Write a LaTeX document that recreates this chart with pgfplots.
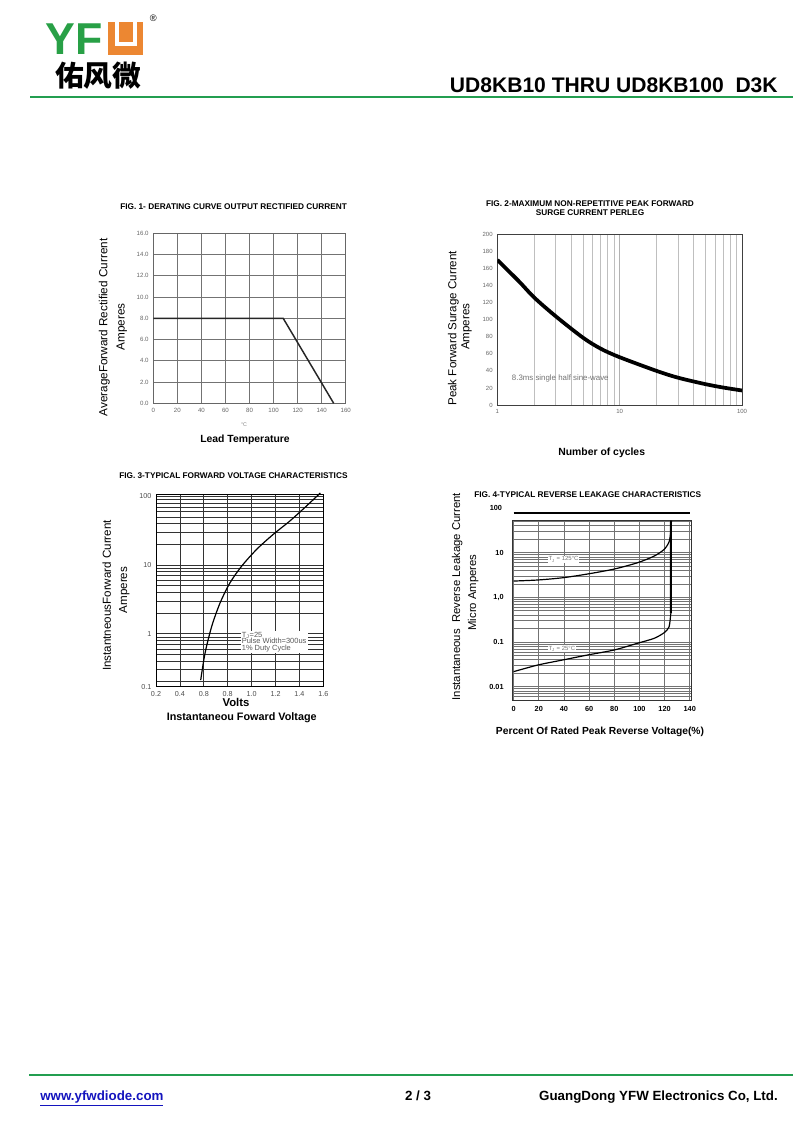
\documentclass[border=0pt]{standalone}
\usepackage{pgfplots}
\pgfplotsset{compat=1.18}
\usepackage{fontspec}
\setmainfont{Liberation Sans}
\newfontfamily\cjk{Noto Sans CJK SC}
\definecolor{ygreen}{RGB}{35,158,80}
\definecolor{lgreen}{RGB}{40,160,70}
\definecolor{yorange}{RGB}{236,135,50}
\definecolor{lnkblue}{RGB}{20,20,190}
\newcommand{\fs}[1]{\fontsize{#1}{#1}\selectfont}
\pgfplotsset{
  every axis/.append style={scale only axis, anchor=south west,
    /pgf/number format/assume math mode=true, major tick length=0pt, minor tick length=0pt},
}
\begin{document}
\begin{tikzpicture}
\begin{scope}[x=0.75pt,y=-0.75pt]
\path[use as bounding box] (0,0) rectangle (800,1138);
% header
\node[anchor=base west, inner sep=0, text=lgreen, font=\bfseries\fs{33.5pt}] at (45,55) {YF};
\fill[yorange] (108.3,22.5) rectangle (143.3,55.3);
\draw[white, line width=3pt, miter limit=10] (117.3,22.5) -- (117.3,43.7) -- (135.3,43.7) -- (135.3,22.5);
\node[anchor=center, inner sep=0, font=\fs{7pt}] at (153.3,18.7) {®};
\node[anchor=base west, inner sep=0, font=\cjk\bfseries\fs{21.5pt}] at (55,86.5) {佑风微};
\node[anchor=base east, inner sep=0, font=\bfseries\fs{15.8pt}] at (778,93) {UD8KB10 THRU UD8KB100\ \ D3K};
\draw[ygreen, line width=1.6pt] (30,97.3) -- (793,97.3);
% footer
\draw[ygreen, line width=1.6pt] (29,1075) -- (793,1075);
\node[anchor=base west, inner sep=0, text=lnkblue, font=\bfseries\fs{10pt}] at (40,1100.7) {\underline{www.yfwdiode.com}};
\node[anchor=base, inner sep=0, font=\bfseries\fs{10pt}] at (418,1100.7) {2 / 3};
\node[anchor=base east, inner sep=0, font=\bfseries\fs{10pt}] at (778,1100.7) {GuangDong YFW Electronics Co, Ltd.};
% fig titles
\node[anchor=west, inner sep=0, font=\bfseries\fs{6.2pt}] at (120,207) {FIG. 1- DERATING CURVE OUTPUT RECTIFIED CURRENT};
\node[anchor=center, inner sep=0, font=\bfseries\fs{6.2pt}] at (590,203.3) {FIG. 2-MAXIMUM NON-REPETITIVE PEAK FORWARD};
\node[anchor=center, inner sep=0, font=\bfseries\fs{6.2pt}] at (590,212.3) {SURGE CURRENT PERLEG};
\node[anchor=west, inner sep=0, font=\bfseries\fs{6.2pt}] at (119,476) {FIG. 3-TYPICAL FORWARD VOLTAGE CHARACTERISTICS};
\node[anchor=west, inner sep=0, font=\bfseries\fs{6.2pt}] at (474,495) {FIG. 4-TYPICAL REVERSE LEAKAGE CHARACTERISTICS};
% axis labels fig1
\node[rotate=90, inner sep=0, font=\fs{8.8pt}] at (104.3,327.5) {AverageForward Rectified Current};
\node[rotate=90, inner sep=0, font=\fs{8.8pt}] at (121.7,327) {Amperes};
\node[inner sep=0, text=gray, font=\fs{4pt}] at (244,425) {°C};
\node[inner sep=0, font=\bfseries\fs{7.8pt}] at (245,440) {Lead Temperature};
% fig2
\node[rotate=90, inner sep=0, font=\fs{8.7pt}] at (453.3,328.3) {Peak Forward Surage Current};
\node[rotate=90, inner sep=0, font=\fs{8.7pt}] at (466.7,326.7) {Amperes};
\node[inner sep=0, font=\bfseries\fs{7.8pt}] at (601.7,453.3) {Number of cycles};
% fig3
\node[rotate=90, inner sep=0, font=\fs{8.7pt}] at (106.7,595.5) {InstantneousForward Current};
\node[rotate=90, inner sep=0, font=\fs{8.7pt}] at (124.3,590) {Amperes};
\node[inner sep=0, font=\bfseries\fs{8.5pt}] at (236,702.3) {Volts};
\node[inner sep=0, font=\bfseries\fs{8.1pt}] at (241.7,717.3) {Instantaneou Foward Voltage};
% fig4
\node[rotate=90, inner sep=0, font=\fs{8.5pt}] at (457.3,596.7) {Instantaneous\ \ Reverse Leakage Current};
\node[rotate=90, inner sep=0, font=\fs{8.5pt}] at (473.3,592.5) {Micro Amperes};
\node[inner sep=0, font=\bfseries\fs{7.7pt}] at (600,731.7) {Percent\ Of Rated Peak Reverse Voltage(\%)};
\end{scope}

% ---------------- FIG 1
\begin{axis}[at={(115pt,-302.5pt)}, width=144.3pt, height=127.5pt,
  xmin=0, xmax=160, ymin=0, ymax=16,
  xtick={0,20,40,60,80,100,120,140,160},
  ytick={0,2,4,6,8,10,12,14,16},
  yticklabels={0.0,2.0,4.0,6.0,8.0,10.0,12.0,14.0,16.0},
  grid=major, major grid style={draw=black!55, line width=0.6pt},
  axis line style={draw=black!60, line width=0.6pt},
  tick label style={font=\fs{4.6pt}, text=black!60}]
\addplot[black!85, line width=1.1pt] coordinates {(0,8) (108,8) (150,0)};
\end{axis}

% ---------------- FIG 2
\begin{axis}[at={(373pt,-303.75pt)}, width=183.5pt, height=128pt,
  xmode=log, xmin=1, xmax=100, ymin=0, ymax=200,
  xtick={1,10,100}, xticklabels={1,10,100},
  ytick={0,20,40,60,80,100,120,140,160,180,200},
  xmajorgrids, xminorgrids,
  major grid style={draw=black!30, line width=0.5pt},
  minor grid style={draw=black!25, line width=0.5pt},
  axis line style={draw=black!75, line width=0.7pt},
  tick label style={font=\fs{4.5pt}, text=black!60}]
\addplot[black, line width=2.8pt, smooth] coordinates {(1,170) (1.5,145) (2,126) (3,104) (5,79) (7,66) (10,56) (20,40) (30,32) (50,24.5) (70,20.5) (100,17)};
\node[anchor=west, inner sep=0, text=black!55, font=\fs{5.9pt}] at (axis cs:1.31,31) {8.3ms single half sine-wave};
\end{axis}

% ---------------- FIG 3
\begin{axis}[at={(117pt,-515pt)}, width=125.5pt, height=143.8pt,
  ymode=log, xmin=0.2, xmax=1.6, ymin=0.17, ymax=105, clip=false,
  xtick={0.2,0.4,0.6,0.8,1.0,1.2,1.4,1.6},
  xticklabels={0.2,0.4,0.8,0.8,1.0,1.2,1.4,1.6},
  ytick={1,10,100}, yticklabels={1,10,100},
  extra y ticks={0.17}, extra y tick labels={0.1},
  extra y tick style={grid=none},
  minor ytick={0.2,0.3,0.4,0.5,0.6,0.7,0.8,0.9,2,3,4,5,6,7,8,9,20,30,40,50,60,70,80,90},
  grid=both,
  major grid style={draw=black!80, line width=0.55pt},
  minor grid style={draw=black!80, line width=0.55pt},
  axis line style={draw=black, line width=0.7pt},
  tick label style={font=\fs{5.4pt}, text=black!70}]
\addplot[black, line width=0.9pt, smooth] coordinates {(0.574,0.212) (0.61,0.52) (0.666,1.28) (0.736,2.81) (0.819,5.52) (0.917,9.67) (1.043,17) (1.182,28.1) (1.321,44) (1.461,73) (1.575,112)};
\node[anchor=north west, fill=white, inner sep=1pt, align=left, text=black!65, font=\fs{5.6pt}] at (axis cs:0.905,1.12) {T\textsubscript{J}=25\\[-0.6pt]Pulse Width=300us\\[-0.6pt]1\% Duty Cycle};
\end{axis}

% ---------------- FIG 4
\begin{axis}[at={(384.25pt,-525pt)}, width=134pt, height=135pt,
  ymode=log, xmin=-1, xmax=141, ymin=0.00503, ymax=54, clip=false,
  xtick={0,20,40,60,80,100,120,140},
  ytick={0.01,0.1,1,10}, yticklabels={0.01,0.1,{1,0},10},
  minor ytick={0.006,0.007,0.008,0.009,0.02,0.03,0.04,0.05,0.06,0.07,0.08,0.09,0.2,0.3,0.4,0.5,0.6,0.7,0.8,0.9,2,3,4,5,6,7,8,9,20,30,40,50},
  xmajorgrids, yminorgrids, ymajorgrids,
  major grid style={draw=black!55, line width=0.5pt},
  minor grid style={draw=black!55, line width=0.5pt},
  axis line style={draw=black!80, line width=0.7pt},
  tick label style={font=\bfseries\fs{5.5pt}, text=black},
  yticklabel style={xshift=-3pt},
  xticklabel style={yshift=-1pt}]
\addplot[black, line width=1.4pt] coordinates {(0,76) (140,76)};
\addplot[black, line width=0.9pt, smooth, tension=0.45] coordinates {(0,2.32) (19.3,2.45) (39,2.75) (58.9,3.34) (80,4.31) (98.5,5.97) (111.7,8.4) (119.7,11.9) (123.6,17.6) (124.9,29.5) (125,52)};
\addplot[black, line width=0.9pt, smooth, tension=0.45] coordinates {(0,0.0217) (19.3,0.0306) (39,0.0396) (58.9,0.0513) (80,0.0664) (98.5,0.0938) (111.7,0.121) (119.7,0.162) (123.6,0.22) (124.9,0.44)};
\addplot[black, line width=1.5pt] coordinates {(124.9,0.44) (125.1,52)};
\node[anchor=east, inner sep=0, font=\bfseries\fs{5.5pt}] at (axis cs:-9,100) {100};
\node[anchor=west, inner sep=0.5pt, fill=white, text=black!55, font=\fs{4.5pt}] at (axis cs:27,7.1) {T\textsubscript{J} = 125°C};
\node[anchor=west, inner sep=0.5pt, fill=white, text=black!55, font=\fs{4.5pt}] at (axis cs:27,0.07) {T\textsubscript{J} = 25°C};
\end{axis}
\end{tikzpicture}
\end{document}
